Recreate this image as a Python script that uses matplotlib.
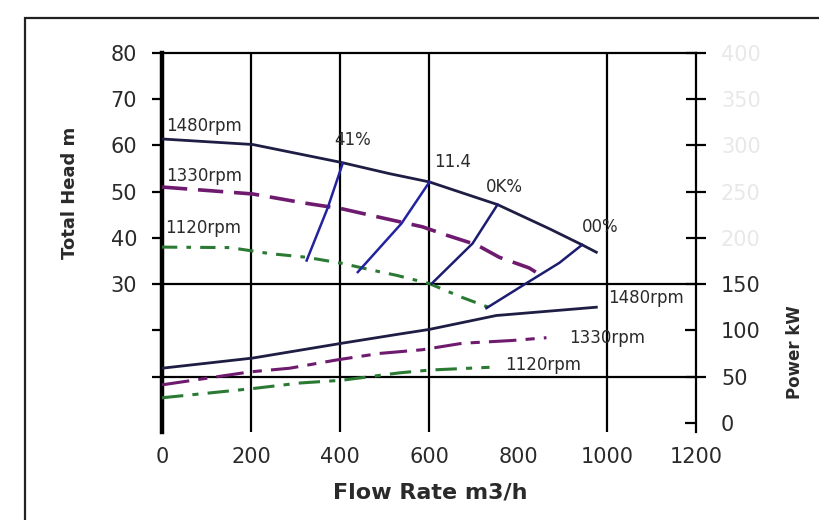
import matplotlib.pyplot as plt
from matplotlib.patches import Rectangle

# axis ticks
flow_ticks = [0, 200, 400, 600, 800, 1000, 1200]
head_ticks = [20, 30, 40, 50, 60, 70, 80]
head_labels = ["", "30", "40", "50", "60", "70", "80"]
power_major = [50, 150, 200, 250, 300, 350, 400]
power_minor = [0, 100]

# head curves: flow (m3/h) vs total head (m)
q_1480 = [0, 204, 404, 511, 601, 754, 870, 944, 976]
h_1480 = [61.4, 60.2, 56.3, 53.9, 52.1, 47.2, 42.0, 38.5, 36.9]
q_1330 = [0, 204, 316, 404, 496, 585, 639, 707, 758, 825, 850]
h_1330 = [51.0, 49.5, 47.6, 46.3, 44.3, 42.4, 40.6, 38.5, 35.8, 33.5, 32.0]
q_1120 = [0, 153, 242, 325, 404, 473, 527, 601, 675, 736]
h_1120 = [38.0, 37.9, 36.6, 35.8, 34.5, 33.0, 31.9, 30.1, 27.1, 24.9]

# iso-efficiency lines
eff_labels = ["41%", "11.4", "0K%", "00%"]
eff_q = [[325, 372, 406], [440, 538, 601], [606, 698, 754], [729, 819, 893, 944]]
eff_h = [[35.1, 46.4, 56.1], [32.6, 43.1, 52.1], [30.1, 38.8, 47.2], [24.8, 30.2, 34.6, 38.5]]

# power curves: flow (m3/h) vs power (kW)
pq_1480 = [0, 204, 404, 534, 601, 751, 976]
p_1480 = [59, 70, 86, 96, 101, 116, 125]
pq_1330 = [0, 197, 287, 393, 489, 585, 675, 787, 864]
p_1330 = [41, 55, 59, 68, 75, 79, 86, 89, 92]
pq_1120 = [0, 204, 310, 404, 534, 601, 691, 736]
p_1120 = [27, 37, 43, 46, 54, 57, 59, 60]

navy = "#1e1e44"
purple = "#6e1a6e"
green = "#2b7a34"
blue = "#2323a0"
txt = "#2a2a2a"

fig = plt.figure(figsize=(8.19, 5.2), dpi=100)
fig.patches.append(Rectangle((25 / 819, -0.01), 0.98, 1 - 18 / 520 + 0.01,
                             transform=fig.transFigure, fill=False,
                             edgecolor="#222222", linewidth=1.6))

ax = fig.add_axes([162 / 819, 1 - 432 / 520, 534 / 819, 379 / 520])
ax2 = ax.twinx()

ax.set_xlim(0, 1200)
ax.set_ylim(-2, 80)
ax2.set_ylim(-10, 400)

for a in (ax, ax2):
    a.patch.set_visible(False)
    for s in a.spines.values():
        s.set_visible(False)
ax.spines["left"].set_visible(True)
ax.spines["left"].set_linewidth(3.2)
ax.spines["top"].set_visible(True)
ax.spines["top"].set_linewidth(1.6)
ax2.spines["right"].set_visible(True)
ax2.spines["right"].set_linewidth(1.6)

# grid
for q in [200, 400, 600, 1000]:
    ax.axvline(q, color="black", linewidth=1.6, zorder=1)
for h in [30, 10]:
    ax.axhline(h, color="black", linewidth=1.6, zorder=1)

ax.set_xticks(flow_ticks)
ax.set_xticklabels([str(v) for v in flow_ticks])
ax.tick_params(axis="x", length=0, pad=11, labelsize=15, labelcolor=txt)
ax.set_yticks(head_ticks + [10])
ax.set_yticklabels(head_labels + [""])
ax.tick_params(axis="y", length=7, width=1.6, direction="out", pad=11,
               labelsize=15, labelcolor=txt)

ax2.set_yticks(power_major)
ax2.set_yticklabels([str(v) for v in power_major])
ax2.set_yticks(power_minor, minor=True)
ax2.set_yticklabels([str(v) for v in power_minor], minor=True)
ax2.tick_params(axis="y", which="major", length=14, width=1.6, direction="inout",
                pad=11, labelsize=15, labelcolor=txt)
ax2.tick_params(axis="y", which="minor", length=8, width=1.6, direction="in",
                pad=18, labelsize=15, labelcolor=txt)
for lab in ax2.get_yticklabels()[2:]:
    lab.set_color("#e8e8e8")

# head curves
ax.plot(q_1480, h_1480, color=navy, linewidth=2, zorder=3)
ax.plot(q_1330, h_1330, color=purple, linewidth=2.6, dashes=(7, 3), zorder=3)
ax.plot(q_1120, h_1120, color=green, linewidth=2.2, dashes=(5, 3, 1.5, 3), zorder=3)

for i in range(len(eff_q)):
    ax.plot(eff_q[i], eff_h[i], color=blue if i < 2 else "#1c1c70", linewidth=1.8, zorder=4)

ax.text(10, 64.2, "1480rpm", fontsize=12, color=txt, va="center")
ax.text(10, 53.3, "1330rpm", fontsize=12, color=txt, va="center")
ax.text(8, 42.2, "1120rpm", fontsize=12, color=txt, va="center")
ax.text(388, 61.2, eff_labels[0], fontsize=12, color=txt, va="center")
ax.text(612, 56.5, eff_labels[1], fontsize=12, color=txt, va="center")
ax.text(727, 51.1, eff_labels[2], fontsize=12, color=txt, va="center")
ax.text(944, 42.3, eff_labels[3], fontsize=12, color=txt, va="center")

# power curves
ax2.plot(pq_1480, p_1480, color=navy, linewidth=2, zorder=3)
ax2.plot(pq_1330, p_1330, color=purple, linewidth=2.2, dashes=(9, 3, 3, 3), zorder=3)
ax2.plot(pq_1120, p_1120, color=green, linewidth=2.2, dashes=(7, 3, 2, 3), zorder=3)

ax2.text(1003, 135, "1480rpm", fontsize=12, color=txt, va="center")
ax2.text(915, 91.5, "1330rpm", fontsize=12, color=txt, va="center")
ax2.text(772, 63, "1120rpm", fontsize=12, color=txt, va="center")

fig.text(430 / 819, 1 - 493 / 520, "Flow Rate m3/h", fontsize=16, fontweight="bold",
         color=txt, ha="center", va="center")
fig.text(70 / 819, 1 - 193 / 520, "Total Head m", fontsize=13, fontweight="bold",
         color=txt, ha="center", va="center", rotation=90)
fig.text(795 / 819, 1 - 352 / 520, "Power kW", fontsize=12, fontweight="bold",
         color=txt, ha="center", va="center", rotation=90)

fig.savefig("out.png", dpi=100)
